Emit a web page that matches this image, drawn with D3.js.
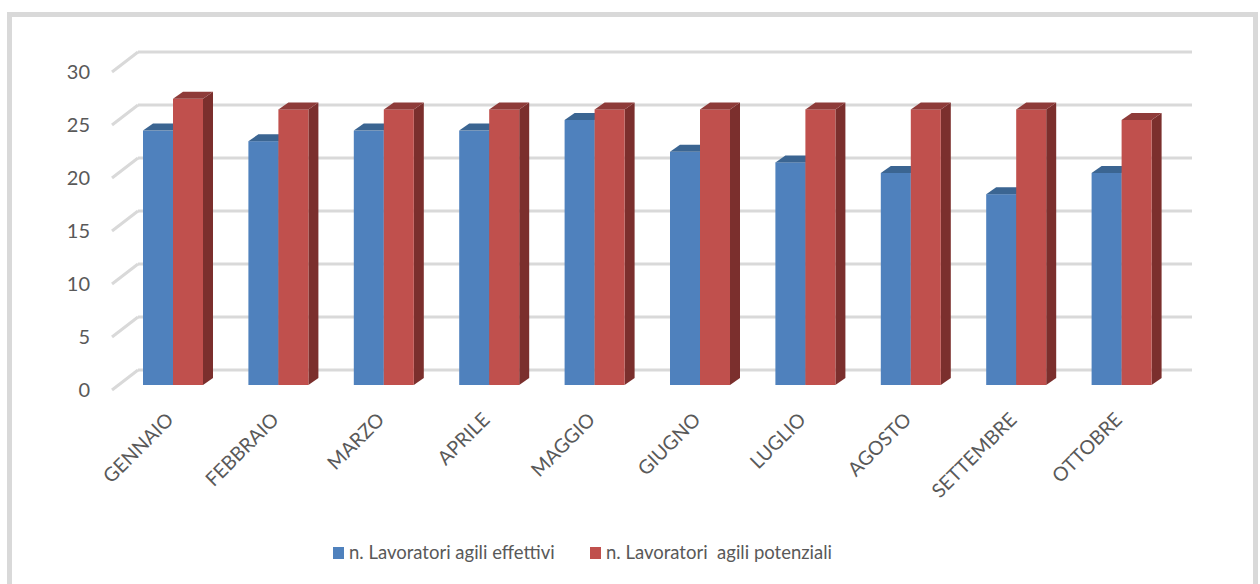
<!DOCTYPE html>
<html><head><meta charset="utf-8">
<script src="https://cdn.jsdelivr.net/npm/d3@7"></script>
<style>body{margin:0;background:#fff}svg{display:block}text{font-family:Lato,"Open Sans",sans-serif;fill:#595959}</style>
</head><body><svg id="c" width="1260" height="584"></svg>
<script>
const categories = ["GENNAIO","FEBBRAIO","MARZO","APRILE","MAGGIO","GIUGNO","LUGLIO","AGOSTO","SETTEMBRE","OTTOBRE"];
const effettivi = [24,23,24,24,25,22,21,20,18,20];
const potenziali = [27,26,26,26,26,26,26,26,26,25];
const seriesNames = ["n. Lavoratori agili effettivi","n. Lavoratori  agili potenziali"];
const yTicks = [0,5,10,15,20,25,30];

const svg = d3.select("#c");
svg.append("rect").attr("x",9.5).attr("y",14.5).attr("width",1246).attr("height",620)
  .attr("fill","#fff").attr("stroke","#d9d9d9").attr("stroke-width",5);

const x = d3.scaleBand().domain(categories).range([138,1192]);
const yBack = d3.scaleLinear().domain([0,30]).range([370,52]);
const yFront = d3.scaleLinear().domain([0,30]).range([390,72]);
const yBar = d3.scaleLinear().domain([0,30]).range([385,67]);
const dx=10, dy=7, bw=30;

const g = svg.append("g");
g.selectAll("line.grid").data(yTicks).join("line")
  .attr("x1",138).attr("x2",1192).attr("y1",d=>yBack(d)).attr("y2",d=>yBack(d))
  .attr("stroke","#d9d9d9").attr("stroke-width",3);
g.selectAll("line.diag").data(yTicks).join("line")
  .attr("x1",112).attr("y1",d=>yFront(d)).attr("x2",138).attr("y2",d=>yBack(d))
  .attr("stroke","#d9d9d9").attr("stroke-width",3);
g.selectAll("text.yl").data(yTicks).join("text")
  .attr("x",90).attr("y",d=>yFront(d)).attr("dy","0.36em").attr("text-anchor","end")
  .style("font-size","20px").text(d=>d);

const series = [
  {vals:effettivi, off:5, front:"#4f81bd", top:"#3b6592", side:"#325781"},
  {vals:potenziali, off:35, front:"#c0504d", top:"#8e3b39", side:"#7b2f2d"}
];
const base = yBar(0);
series.forEach(s=>{
  const bars = g.append("g").selectAll("g").data(categories.map((c,i)=>({c,v:s.vals[i]}))).join("g");
  bars.append("path").attr("fill",s.side).attr("d",d=>{
    const bx=x(d.c)+s.off, yt=yBar(d.v);
    return `M${bx+bw},${yt}L${bx+bw+dx},${yt-dy}L${bx+bw+dx},${base-dy}L${bx+bw},${base}Z`;});
  bars.append("rect").attr("fill",s.front)
    .attr("x",d=>x(d.c)+s.off).attr("y",d=>yBar(d.v)).attr("width",bw).attr("height",d=>base-yBar(d.v));
  bars.append("path").attr("fill",s.top).attr("d",d=>{
    const bx=x(d.c)+s.off, yt=yBar(d.v);
    return `M${bx},${yt}L${bx+dx},${yt-dy}L${bx+bw+dx},${yt-dy}L${bx+bw},${yt}Z`;});
});

g.selectAll("text.xl").data(categories).join("text")
  .attr("text-anchor","end").style("font-size","19.5px")
  .attr("transform",d=>`translate(${x(d)+x.bandwidth()/2-16},421) rotate(-45)`)
  .text(d=>d);

const leg = [{name:seriesNames[0],color:"#4f81bd",x:333},{name:seriesNames[1],color:"#c0504d",x:590}];
const lg = svg.append("g").selectAll("g").data(leg).join("g");
lg.append("rect").attr("x",d=>d.x).attr("y",547).attr("width",11).attr("height",12).attr("fill",d=>d.color);
lg.append("text").attr("x",d=>d.x+16).attr("y",559).style("font-size","18.5px").style("white-space","pre")
  .attr("xml:space","preserve").text(d=>d.name);
</script></body></html>
